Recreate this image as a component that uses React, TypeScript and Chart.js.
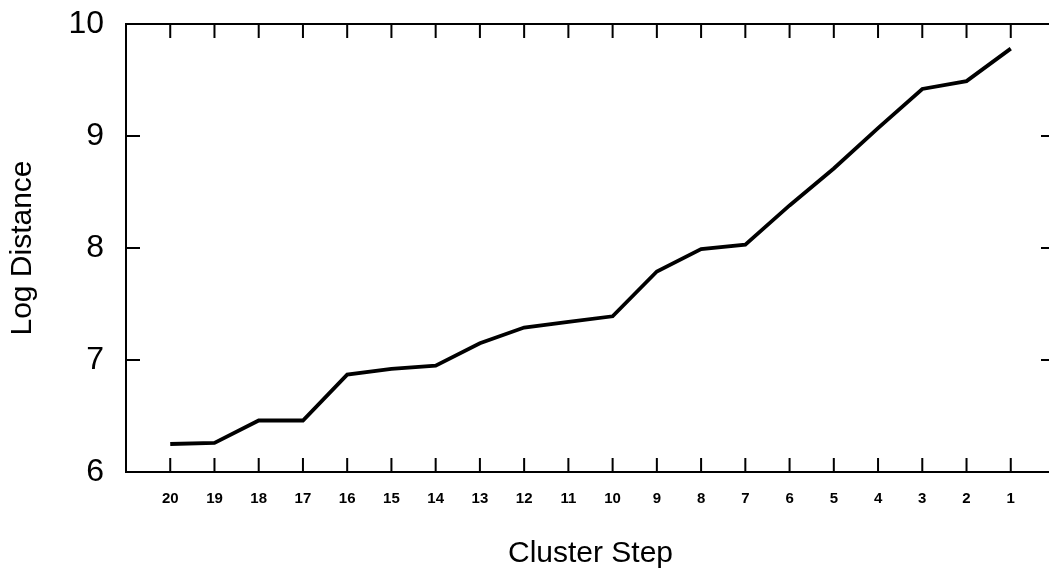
import React, { useEffect, useRef } from "react";
import { Chart, registerables } from "chart.js";

Chart.register(...registerables);

const clusterSteps = [20, 19, 18, 17, 16, 15, 14, 13, 12, 11, 10, 9, 8, 7, 6, 5, 4, 3, 2, 1];
const logDistance = [
  6.25, 6.26, 6.46, 6.46, 6.87, 6.92, 6.95, 7.15, 7.29, 7.34,
  7.39, 7.79, 7.99, 8.03, 8.38, 8.71, 9.07, 9.42, 9.49, 9.78,
];
const xTickValues = clusterSteps;
const yTickValues = [6, 7, 8, 9, 10];
const xTitle = "Cluster Step";
const yTitle = "Log Distance";

const FONT = "'Liberation Sans', Arial, Helvetica, sans-serif";

const frameTicks = {
  id: "frameTicks",
  afterDraw(chart: any) {
    const { ctx, chartArea, scales } = chart;
    const { left, right, top, bottom } = chartArea;
    const x = scales.x;
    const y = scales.y;
    const len = 14;
    ctx.save();
    ctx.strokeStyle = "#000";
    ctx.lineWidth = 2;
    ctx.strokeRect(left, top, right - left, bottom - top);
    ctx.beginPath();
    x.ticks.forEach((t: any) => {
      const px = x.getPixelForValue(t.value);
      ctx.moveTo(px, bottom);
      ctx.lineTo(px, bottom - len);
      ctx.moveTo(px, top);
      ctx.lineTo(px, top + len);
    });
    y.ticks.forEach((t: any) => {
      const py = y.getPixelForValue(t.value);
      ctx.moveTo(left, py);
      ctx.lineTo(left + len, py);
      ctx.moveTo(right, py);
      ctx.lineTo(right - len, py);
    });
    ctx.stroke();
    ctx.restore();
  },
};

export default function App() {
  const canvasRef = useRef<HTMLCanvasElement | null>(null);

  useEffect(() => {
    if (!canvasRef.current) return;
    const chart = new Chart(canvasRef.current, {
      type: "line",
      data: {
        datasets: [
          {
            data: clusterSteps.map((s, i) => ({ x: s, y: logDistance[i] })),
            borderColor: "#000",
            borderWidth: 3.8,
            pointRadius: 0,
            tension: 0,
            fill: false,
          },
        ],
      },
      options: {
        animation: false,
        responsive: true,
        maintainAspectRatio: false,
        layout: { padding: { top: 24, right: 7, left: 0, bottom: 0 } },
        plugins: {
          legend: { display: false },
          tooltip: { enabled: false },
        },
        scales: {
          x: {
            type: "linear",
            min: 0,
            max: 21,
            reverse: true,
            grid: { display: false, drawTicks: false },
            border: { display: false },
            afterBuildTicks: (scale: any) => {
              scale.ticks = xTickValues.map((v) => ({ value: v }));
            },
            afterFit: (scale: any) => {
              scale.height = 97;
              scale.paddingLeft = 0;
              scale.paddingRight = 0;
            },
            ticks: {
              autoSkip: false,
              maxRotation: 0,
              padding: 18,
              color: "#000",
              font: { family: FONT, size: 15, weight: "bold" },
            },
            title: {
              display: true,
              text: xTitle,
              color: "#000",
              font: { family: FONT, size: 30, lineHeight: 1 },
              padding: { top: 0, bottom: 0 },
            },
          },
          y: {
            type: "linear",
            min: 6,
            max: 10,
            grid: { display: false, drawTicks: false },
            border: { display: false },
            afterBuildTicks: (scale: any) => {
              scale.ticks = yTickValues.map((v) => ({ value: v }));
            },
            afterFit: (scale: any) => {
              scale.width = 126;
              scale.paddingTop = 0;
              scale.paddingBottom = 0;
            },
            ticks: {
              padding: 22,
              color: "#000",
              font: { family: FONT, size: 32, lineHeight: 1 },
            },
            title: {
              display: true,
              text: yTitle,
              color: "#000",
              font: { family: FONT, size: 30, lineHeight: 1 },
              padding: { top: 8, bottom: 0 },
            },
          },
        },
      },
      plugins: [frameTicks],
    });
    return () => chart.destroy();
  }, []);

  return (
    <div style={{ position: "fixed", left: 0, top: 0, width: 1049, height: 569, overflow: "hidden", background: "#fff" }}>
      <div style={{ position: "absolute", left: 0, top: 0, width: 1062, height: 569 }}>
        <canvas ref={canvasRef} />
      </div>
    </div>
  );
}
